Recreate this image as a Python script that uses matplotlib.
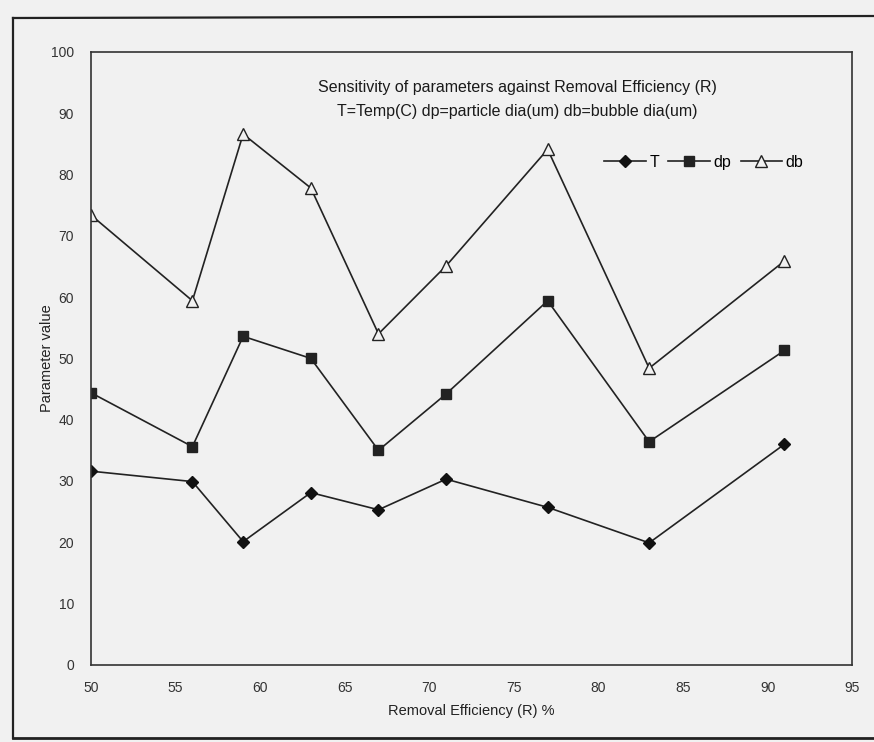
import matplotlib
matplotlib.use("Agg")
import matplotlib.pyplot as plt
from matplotlib.lines import Line2D

plt.rcParams['font.family'] = ['Liberation Sans', 'DejaVu Sans']

removal_eff = [50, 56, 59, 63, 67, 71, 77, 83, 91]
T_vals = [31.6, 29.9, 20.1, 28.1, 25.3, 30.3, 25.7, 19.9, 36.0]
dp_vals = [44.4, 35.6, 53.6, 50.0, 35.0, 44.2, 59.4, 36.4, 51.3]
db_vals = [73.4, 59.4, 86.6, 77.8, 54.0, 65.1, 84.1, 48.4, 65.9]
x_ticks = [50, 55, 60, 65, 70, 75, 80, 85, 90, 95]
y_ticks = [0, 10, 20, 30, 40, 50, 60, 70, 80, 90, 100]

bg = '#f1f1f1'
fig = plt.figure(figsize=(8.74, 7.42), dpi=100, facecolor=bg)
ax = fig.add_axes([0.104, 0.104, 0.871, 0.826])
ax.set_facecolor(bg)

lc = '#222222'
ax.plot(removal_eff, T_vals, color=lc, lw=1.2, marker='D', ms=6,
        mfc='#111111', mec='#111111', label='T')
ax.plot(removal_eff, dp_vals, color=lc, lw=1.2, marker='s', ms=7.5,
        mfc='#222222', mec='#222222', label='dp')
ax.plot(removal_eff, db_vals, color=lc, lw=1.2, marker='^', ms=8,
        mfc=bg, mec='#222222', mew=1.0, label='db')

ax.set_xlim(50, 95)
ax.set_ylim(0, 100)
ax.set_xticks(x_ticks)
ax.set_yticks(y_ticks)
ax.tick_params(length=0, labelsize=10, colors='#333333')
ax.tick_params(axis='x', pad=12)
ax.tick_params(axis='y', pad=12)
for s in ax.spines.values():
    s.set_color('#333333')
    s.set_linewidth(1.2)

ax.set_xlabel('Removal Efficiency (R) %', fontsize=10.5, color='#222222', labelpad=6)
ax.set_ylabel('Parameter value', fontsize=10.5, color='#222222', labelpad=-2)

ax.text(0.56, 0.942, 'Sensitivity of parameters against Removal Efficiency (R)',
        transform=ax.transAxes, ha='center', va='center', fontsize=11.5, color='#1a1a1a')
ax.text(0.56, 0.903, 'T=Temp(C) dp=particle dia(um) db=bubble dia(um)',
        transform=ax.transAxes, ha='center', va='center', fontsize=11.5, color='#1a1a1a')

leg = ax.legend(loc='center', bbox_to_anchor=(0.805, 0.82), ncol=3, frameon=False,
                fontsize=11.5, handlelength=2.6, columnspacing=0.6, handletextpad=0.2)

# outer frame of the scanned chart area
fig.add_artist(Line2D([13/874, 13/874], [1-18/742, 1-738/742], transform=fig.transFigure,
                      color='#222222', lw=1.6))
fig.add_artist(Line2D([13/874, 1.0], [1-18/742, 1-16/742], transform=fig.transFigure,
                      color='#222222', lw=1.6))
fig.add_artist(Line2D([13/874, 1.0], [1-738/742, 1-738/742], transform=fig.transFigure,
                      color='#222222', lw=2.0))

fig.savefig('out.png', dpi=100, facecolor=bg)
